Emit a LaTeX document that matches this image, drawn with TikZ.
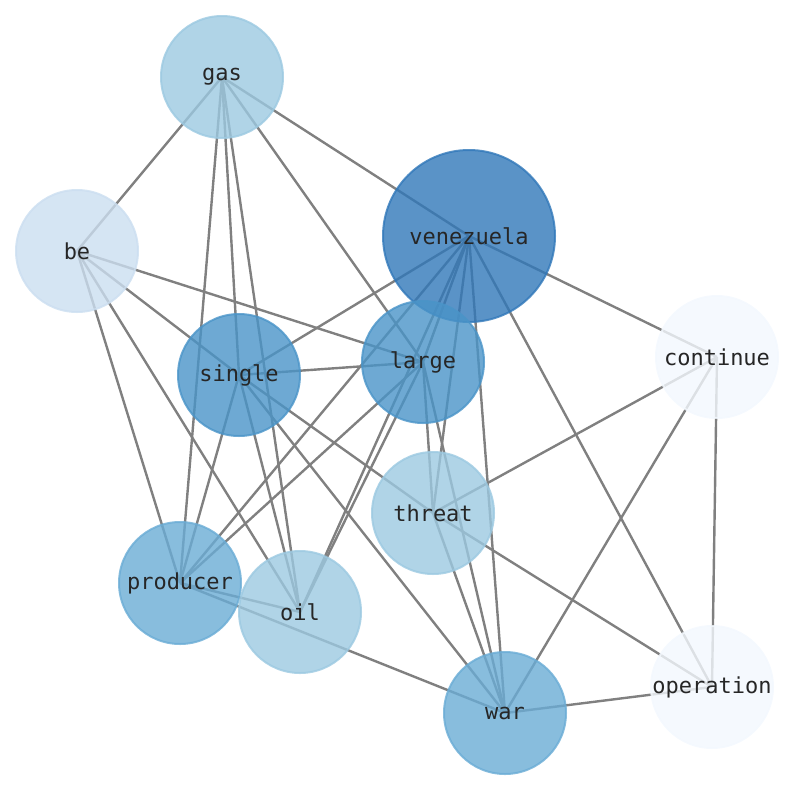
\documentclass[tikz,border=0pt]{standalone}
\usepackage{fontspec}
\setmonofont{DejaVu Sans Mono}
\pgfdeclarelayer{background}
\pgfsetlayers{background,main}
\definecolor{cA}{RGB}{49,120,185}
\definecolor{cB}{RGB}{74,148,200}
\definecolor{cC}{RGB}{106,172,213}
\definecolor{cD}{RGB}{156,201,225}
\definecolor{cE}{RGB}{203,222,240}
\definecolor{cF}{RGB}{243,248,254}
\tikzset{
  wnode/.style={circle, draw=#1, fill=#1, opacity=0.8, text opacity=1, line width=2pt,
    minimum size=122pt, inner sep=0pt, text=black!85,
    font=\ttfamily\fontsize{22}{26}\selectfont},
  link/.style={draw=gray, line width=2.4pt}
}
\begin{document}
\begin{tikzpicture}[x=1pt,y=-1pt]
\useasboundingbox (0,0) rectangle (794,790);
\node[wnode=cD] (gas) at (222,77) {gas};
\node[wnode=cE] (be) at (77,251) {be};
\node[wnode=cA, minimum size=172pt] (venezuela) at (469,236) {venezuela};
\node[wnode=cF] (continue) at (717,357) {continue};
\node[wnode=cB] (single) at (239,375) {single};
\node[wnode=cB] (large) at (423,362) {large};
\node[wnode=cD] (threat) at (433,513) {threat};
\node[wnode=cC] (producer) at (180,583) {producer};
\node[wnode=cD] (oil) at (300,612) {oil};
\node[wnode=cC] (war) at (505,713) {war};
\node[wnode=cF] (operation) at (712,687) {operation};
\begin{pgfonlayer}{background}
\foreach \a/\b in {gas/be, gas/producer, gas/single, gas/oil, gas/large, gas/venezuela,
  be/large, be/single, be/producer, be/oil,
  venezuela/single, venezuela/large, venezuela/continue, venezuela/producer, venezuela/oil,
  venezuela/threat, venezuela/war, venezuela/operation,
  single/large, single/producer, single/oil, single/threat, single/war,
  large/producer, large/oil, large/threat, large/war,
  threat/continue, threat/war, threat/operation,
  producer/oil, producer/war,
  continue/war, continue/operation, war/operation}
  \draw[link] (\a.center) -- (\b.center);
\end{pgfonlayer}
\end{tikzpicture}
\end{document}
